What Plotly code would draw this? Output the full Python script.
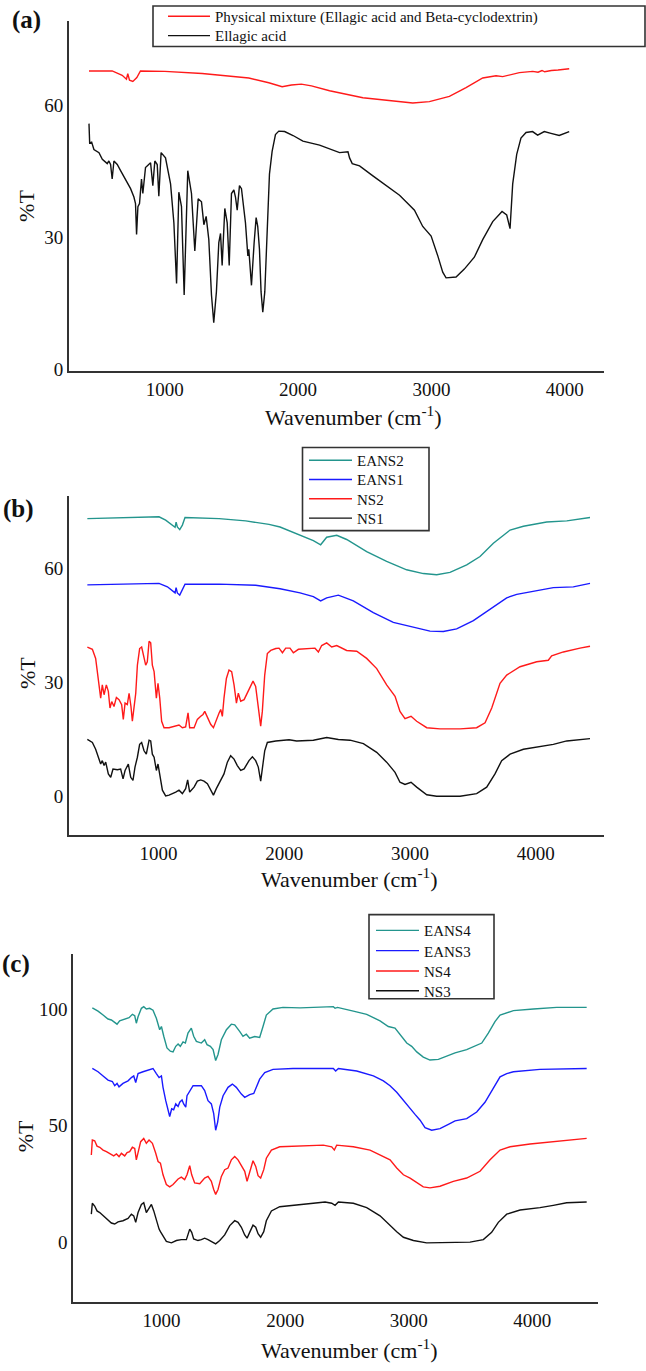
import plotly.graph_objects as go

W, H = 646, 1371
FONT = '"Liberation Serif", "Times New Roman", Times, "DejaVu Serif", serif'
RED = "#ff1a1a"
BLACK = "#111111"
TEAL = "#23958d"
BLUE = "#1a1aff"

# ---------------- Panel (a) ----------------
pm_x = [431, 605, 680, 712, 722, 735, 760, 790, 817, 1000, 1280, 1630, 1780, 1880, 1950,
        2024, 2100, 2236, 2486, 2860, 2985, 3135, 3260, 3385, 3485, 3535, 3660, 3760,
        3800, 3830, 3850, 3900, 3950, 4034]
pm_y = [67.9, 67.9, 66.9, 66.0, 67.3, 65.8, 65.5, 66.4, 67.9, 67.8, 67.3, 66.3, 65.2, 64.3, 64.7,
        64.9, 64.5, 63.4, 61.8, 60.6, 60.9, 62.1, 64.1, 66.3, 66.8, 66.6, 67.5, 67.8,
        67.6, 68.0, 67.7, 68.0, 68.1, 68.4]

ea_x = [431, 436, 451, 468, 506, 531, 568, 580, 593, 605, 618, 643, 668, 705, 743, 768, 780,
        788, 798, 810, 825, 835, 855, 893, 910, 925, 943, 955, 972, 1005, 1043, 1068, 1088,
        1105, 1125, 1145, 1172, 1200, 1225, 1250, 1275, 1293, 1310, 1330, 1350, 1367, 1387,
        1405, 1418, 1430, 1450, 1468, 1483, 1500, 1518, 1530, 1543, 1560, 1575, 1605, 1623,
        1630, 1650, 1670, 1685, 1697, 1710, 1722, 1735, 1750, 1767, 1785, 1805, 1830, 1855,
        1899, 1962, 2036, 2161, 2236, 2311, 2374, 2386, 2406, 2461, 2561, 2661, 2761, 2823,
        2873, 2935, 2998, 3048, 3085, 3110, 3185, 3247, 3322, 3385, 3460, 3530, 3565, 3590,
        3610, 3640, 3672, 3710, 3759, 3797, 3847, 3897, 3959, 4034]
ea_y = [55.9, 51.5, 51.7, 50.0, 49.3, 47.8, 46.8, 47.4, 46.6, 43.3, 47.4, 46.6, 45.2, 43.3,
        41.1, 39.2, 37.7, 30.7, 37.0, 37.7, 43.3, 40.0, 45.9, 47.0, 41.8, 47.4, 46.6, 39.4,
        49.3, 48.1, 42.2, 33.3, 19.5, 40.3, 37.0, 16.9, 45.2, 40.0, 26.9, 38.8, 38.1, 32.9,
        34.8, 29.5, 16.9, 10.6, 17.6, 28.8, 30.9, 23.6, 36.6, 33.3, 23.6, 40.0, 40.8, 39.2,
        36.2, 41.8, 41.1, 33.3, 25.8, 27.3, 19.1, 28.8, 34.5, 32.5, 27.3, 17.6, 13.0, 17.6,
        31.8, 44.4, 49.6, 53.4, 54.2, 54.1, 53.2, 51.9, 51.0, 50.2, 49.3, 49.5, 48.1, 46.8,
        46.3, 44.0, 41.8, 39.6, 37.7, 36.2, 32.5, 30.3, 25.8, 22.1, 20.8, 21.0, 22.8, 25.5,
        29.5, 33.6, 35.9, 35.1, 32.0, 42.2, 48.9, 52.6, 53.9, 54.1, 53.3, 54.1, 53.7, 53.2,
        54.1]

# ---------------- Panel (b) ----------------
eans2_x = [433, 685, 1003, 1056, 1109, 1131, 1139, 1149, 1168, 1189, 1210, 1481, 1693, 1878,
           1966, 2098, 2231, 2289, 2337, 2417, 2496, 2655, 2814, 2973, 3106, 3212, 3318,
           3451, 3557, 3663, 3796, 3902, 3981, 4087, 4247, 4432]
eans2_y = [73.2, 73.5, 73.7, 72.8, 71.5, 70.9, 72.3, 71.0, 70.3, 71.5, 73.5, 73.2, 72.6, 71.7,
           71.0, 69.3, 67.4, 66.3, 68.3, 68.8, 67.7, 64.5, 61.9, 59.7, 58.7, 58.4, 59.0,
           61.0, 63.2, 66.7, 70.2, 71.2, 71.7, 72.3, 72.6, 73.5]

eans1_x = [433, 1003, 1070, 1115, 1131, 1139, 1149, 1168, 1189, 1210, 1481, 1772, 1966,
           2125, 2231, 2289, 2337, 2430, 2549, 2708, 2867, 3026, 3159, 3265, 3371, 3504,
           3636, 3769, 3849, 3981, 4140, 4299, 4432]
eans1_y = [55.7, 56.1, 55.2, 54.1, 53.6, 55.0, 53.6, 53.0, 54.5, 55.9, 55.9, 55.6, 54.7,
           53.6, 52.6, 51.5, 52.3, 53.0, 51.5, 48.4, 45.8, 44.5, 43.5, 43.4, 44.1, 46.3,
           49.3, 52.3, 53.2, 54.1, 55.0, 55.2, 56.1]

ns2_x = [433, 473, 499, 521, 539, 552, 566, 584, 600, 613, 627, 645, 664, 685, 706, 719, 733,
         751, 765, 780, 791, 807, 818, 831, 849, 865, 884, 897, 910, 924, 937, 950, 964, 982,
         995, 1009, 1024, 1043, 1083, 1136, 1162, 1189, 1215, 1234, 1247, 1282, 1308, 1335,
         1353, 1367, 1388, 1414, 1436, 1459, 1481, 1494, 1507, 1520, 1539, 1560, 1581, 1600,
         1619, 1634, 1653, 1680, 1706, 1733, 1751, 1772, 1791, 1812, 1825, 1844, 1865, 1892,
         1932, 1958, 1985, 2011, 2045, 2072, 2112, 2178, 2244, 2271, 2297, 2337, 2377, 2417,
         2456, 2496, 2576, 2655, 2735, 2814, 2881, 2920, 2960, 3008, 3053, 3133, 3239, 3398,
         3530, 3597, 3650, 3716, 3769, 3875, 4008, 4100, 4127, 4220, 4352, 4432]
ns2_y = [39.3, 38.7, 36.3, 31.0, 25.8, 29.3, 26.7, 29.3, 27.6, 23.2, 24.9, 23.6, 26.0, 25.4,
         24.1, 20.2, 24.5, 24.1, 27.1, 23.6, 19.7, 24.1, 27.1, 34.5, 38.9, 39.3, 36.3, 34.5,
         35.4, 40.8, 40.4, 34.5, 32.8, 25.8, 29.7, 25.8, 19.7, 18.0, 18.0, 18.6, 18.7, 18.0,
         18.2, 21.9, 18.0, 18.0, 20.2, 21.0, 21.5, 22.3, 20.6, 18.9, 18.0, 20.2, 21.9, 22.8,
         21.0, 25.8, 31.0, 33.2, 32.8, 29.3, 24.5, 27.1, 25.0, 25.4, 27.1, 29.3, 30.3, 28.9,
         24.1, 18.4, 22.3, 31.9, 37.6, 38.4, 38.9, 39.0, 37.8, 39.0, 39.0, 37.8, 38.7, 38.9,
         39.0, 38.0, 39.7, 40.4, 39.3, 39.7, 39.0, 38.4, 38.2, 36.3, 33.6, 29.3, 26.3, 22.3,
         20.4, 21.0, 19.7, 18.0, 17.7, 17.7, 18.0, 19.3, 23.2, 29.7, 31.9, 34.1, 35.4, 35.8,
         37.0, 38.0, 39.0, 39.5]

ns1_x = [433, 473, 499, 521, 539, 552, 566, 579, 600, 619, 637, 672, 698, 717, 733, 759, 778,
         796, 812, 831, 849, 865, 884, 902, 924, 937, 950, 964, 982, 995, 1009, 1030, 1056,
         1083, 1136, 1162, 1189, 1215, 1231, 1247, 1282, 1308, 1335, 1361, 1388, 1414, 1436,
         1459, 1494, 1520, 1547, 1573, 1600, 1626, 1653, 1680, 1719, 1746, 1772, 1793, 1812,
         1825, 1844, 1865, 1932, 2038, 2098, 2231, 2337, 2430, 2523, 2629, 2735, 2814, 2881,
         2920, 2960, 3008, 3053, 3133, 3212, 3398, 3530, 3610, 3676, 3729, 3796, 3902, 4061,
         4140, 4247, 4432]
ns1_y = [14.9, 14.1, 12.3, 10.2, 8.4, 9.3, 8.0, 8.9, 5.8, 4.9, 7.1, 6.9, 7.1, 4.5, 6.7, 8.4,
         4.9, 4.1, 7.6, 10.2, 13.6, 14.1, 11.9, 11.0, 14.7, 14.5, 11.0, 10.2, 6.7, 8.4, 5.8,
         1.5, 0.0, 0.2, 1.0, 1.5, 0.6, 1.9, 4.2, 1.0, 2.3, 3.9, 4.2, 3.9, 3.2, 1.5, 0.2, 1.9,
         4.1, 5.8, 8.9, 10.6, 9.7, 8.0, 6.7, 7.1, 9.3, 10.3, 9.3, 7.6, 3.9, 7.6, 11.9, 14.1,
         14.5, 14.8, 14.5, 14.7, 15.4, 14.9, 14.7, 13.8, 11.5, 8.9, 6.2, 3.6, 3.0, 3.6, 2.3,
         0.3, -0.1, -0.1, 0.6, 2.3, 5.8, 9.3, 11.0, 12.3, 13.2, 13.6, 14.5, 15.1]

# ---------------- Panel (c) ----------------
eans4_x = [440, 486, 527, 567, 594, 621, 640, 661, 702, 737, 764, 783, 796, 810, 837, 856, 877,
           904, 931, 958, 985, 999, 1018, 1044, 1071, 1093, 1115, 1134, 1152, 1174, 1193, 1214,
           1241, 1260, 1282, 1322, 1349, 1368, 1395, 1417, 1438, 1457, 1484, 1525, 1565, 1592,
           1632, 1659, 1686, 1713, 1754, 1794, 1821, 1848, 1902, 1983, 2121, 2309, 2390, 2404,
           2423, 2552, 2660, 2768, 2835, 2889, 2943, 2984, 3024, 3065, 3118, 3172, 3240, 3307,
           3375, 3469, 3591, 3644, 3698, 3739, 3847, 4009, 4197, 4440]
eans4_y = [100.5, 99.1, 97.4, 95.7, 95.3, 94.3, 93.5, 94.9, 95.7, 96.3, 97.7, 97.1, 93.9, 96.7,
           100.3, 101.0, 100.0, 100.3, 99.5, 96.0, 91.1, 92.5, 88.3, 83.3, 81.9, 81.6, 84.0,
           85.0, 84.0, 85.9, 85.4, 89.7, 91.8, 88.3, 86.1, 85.4, 86.8, 84.7, 84.0, 82.6, 77.9,
           80.5, 86.8, 91.1, 93.5, 93.2, 90.4, 88.3, 89.2, 87.5, 88.2, 87.8, 92.5, 97.4, 100.0,
           100.7, 100.5, 101.0, 101.0, 100.3, 100.7, 99.1, 97.7, 94.9, 92.5, 91.8, 88.3, 85.4,
           84.0, 81.6, 79.4, 78.1, 78.4, 79.8, 81.2, 82.6, 85.4, 89.7, 94.6, 97.4, 99.3, 100.0,
           100.7, 100.7]

eans3_x = [440, 486, 527, 567, 602, 621, 640, 656, 688, 729, 756, 775, 791, 810, 850, 891, 931,
           958, 980, 999, 1012, 1034, 1053, 1066, 1082, 1098, 1115, 1134, 1147, 1166, 1179, 1196,
           1206, 1228, 1255, 1322, 1349, 1376, 1403, 1422, 1438, 1454, 1471, 1498, 1538, 1573,
           1605, 1646, 1673, 1713, 1746, 1767, 1794, 1835, 1902, 2064, 2175, 2363, 2390, 2409,
           2431, 2579, 2714, 2795, 2849, 2903, 2957, 2997, 3051, 3092, 3132, 3186, 3253, 3321,
           3375, 3469, 3550, 3617, 3685, 3739, 3793, 3847, 4062, 4278, 4440]
eans3_y = [74.5, 73.1, 71.3, 69.5, 68.9, 67.1, 68.1, 66.6, 68.1, 69.2, 70.6, 71.3, 68.5, 72.3,
           73.1, 73.7, 74.5, 72.3, 70.6, 71.3, 66.4, 60.7, 55.8, 53.9, 57.2, 56.8, 59.3, 58.2,
           60.0, 61.0, 59.3, 57.9, 62.8, 65.0, 67.1, 67.1, 65.0, 60.7, 59.3, 55.1, 48.0, 51.5,
           57.9, 62.8, 66.4, 67.8, 66.4, 63.5, 62.1, 63.3, 63.8, 66.4, 69.9, 72.7, 74.1, 74.5,
           74.5, 74.8, 74.5, 73.4, 74.5, 73.4, 71.3, 69.2, 67.1, 64.3, 60.7, 57.9, 54.8, 52.3,
           49.1, 48.0, 48.7, 50.5, 52.0, 53.0, 55.8, 60.0, 66.4, 70.9, 72.3, 73.1, 74.1, 74.5,
           74.5]

ns4_x = [432, 440, 459, 478, 500, 527, 554, 581, 613, 635, 656, 675, 702, 721, 742, 764, 783,
         796, 810, 831, 856, 877, 899, 926, 953, 972, 991, 1012, 1039, 1066, 1093, 1134, 1160,
         1187, 1206, 1228, 1244, 1268, 1309, 1349, 1376, 1403, 1422, 1438, 1457, 1484, 1511,
         1538, 1565, 1592, 1619, 1646, 1673, 1692, 1713, 1740, 1762, 1781, 1802, 1827, 1848,
         1889, 1956, 2121, 2309, 2377, 2398, 2417, 2552, 2687, 2768, 2849, 2903, 2957, 3011,
         3065, 3118, 3172, 3253, 3361, 3469, 3577, 3658, 3739, 3820, 3982, 4170, 4305, 4440]
ns4_y = [37.4, 43.8, 43.5, 41.2, 40.7, 39.5, 38.8, 38.1, 37.0, 37.8, 36.7, 38.1, 37.0, 38.4,
         38.8, 40.7, 40.2, 35.3, 38.1, 43.1, 44.5, 42.4, 43.8, 42.4, 38.1, 34.6, 33.9, 28.9,
         24.7, 23.7, 24.7, 27.1, 27.9, 26.8, 28.9, 32.8, 28.9, 25.4, 25.1, 27.5, 28.2, 26.1,
         22.6, 20.5, 22.6, 28.2, 31.1, 31.8, 35.3, 36.7, 35.3, 32.5, 30.4, 26.1, 29.7, 34.9,
         32.5, 28.5, 27.5, 31.1, 36.0, 39.5, 40.9, 41.2, 41.6, 40.9, 39.5, 41.6, 40.9, 39.5,
         37.4, 35.3, 31.8, 28.9, 27.5, 25.7, 23.7, 23.3, 24.0, 26.1, 27.5, 30.4, 35.3, 39.5,
         40.9, 42.1, 43.1, 44.1, 44.5]

ns3_x = [432, 440, 459, 478, 500, 521, 540, 567, 594, 621, 648, 688, 729, 756, 775, 791, 810,
         837, 856, 877, 899, 918, 937, 958, 980, 991, 1007, 1039, 1080, 1120, 1160, 1201, 1228,
         1244, 1260, 1295, 1322, 1349, 1376, 1403, 1438, 1471, 1511, 1552, 1592, 1619, 1646,
         1673, 1692, 1713, 1740, 1762, 1781, 1802, 1827, 1848, 1889, 1956, 2094, 2228, 2323,
         2377, 2404, 2431, 2552, 2660, 2768, 2849, 2903, 2957, 3038, 3145, 3307, 3496, 3604,
         3671, 3725, 3793, 3901, 4062, 4170, 4278, 4440]
ns3_y = [12.0, 16.7, 15.5, 13.4, 12.7, 11.6, 10.6, 9.2, 8.2, 7.8, 8.7, 9.2, 10.2, 12.0, 11.3,
         8.5, 12.7, 16.2, 16.9, 12.7, 14.8, 16.2, 13.4, 9.2, 5.6, 4.5, 3.1, 0.3, -0.3, 0.7, 1.1,
         1.1, 5.6, 4.2, 1.4, 0.7, 1.1, 1.7, 1.1, 0.3, -0.7, 0.7, 3.1, 7.1, 9.2, 8.5, 6.4, 3.1,
         1.7, 4.2, 7.3, 6.4, 3.6, 2.1, 4.5, 9.2, 13.4, 15.2, 15.8, 16.7, 17.2, 16.7, 15.8,
         17.2, 16.7, 14.8, 11.3, 7.1, 4.5, 2.1, 0.7, -0.3, -0.3, 0.0, 1.1, 4.2, 8.5, 12.0,
         13.8, 14.8, 15.8, 16.9, 17.2]

x_ticks = [1000, 2000, 3000, 4000]
y_ticks_ab = [0, 30, 60]
y_ticks_c = [0, 50, 100]
x_title = "Wavenumber (cm<sup>-1</sup>)"
y_title = "%T"


def px(x):
    return x / W


def py(y):
    return 1 - y / H


fig = go.Figure()

# (name, x, y, colour, panel, legend-left px, legend-row centre px, symbol width px)
series = [
    ("Physical mixture (Ellagic acid and Beta-cyclodextrin)", pm_x, pm_y, RED, 1, 163, 11, 42),
    ("Ellagic acid", ea_x, ea_y, BLACK, 1, 163, 31, 42),
    ("EANS2", eans2_x, eans2_y, TEAL, 2, 304, 460, 43),
    ("EANS1", eans1_x, eans1_y, BLUE, 2, 304, 479.5, 43),
    ("NS2", ns2_x, ns2_y, RED, 2, 304, 499, 43),
    ("NS1", ns1_x, ns1_y, BLACK, 2, 304, 518.5, 43),
    ("EANS4", eans4_x, eans4_y, TEAL, 3, 371, 935, 43),
    ("EANS3", eans3_x, eans3_y, BLUE, 3, 371, 955.5, 43),
    ("NS4", ns4_x, ns4_y, RED, 3, 371, 976, 43),
    ("NS3", ns3_x, ns3_y, BLACK, 3, 371, 996, 43),
]

layout = dict(
    width=W, height=H, margin=dict(l=0, r=0, t=0, b=0),
    paper_bgcolor="white", plot_bgcolor="white",
    font=dict(family=FONT, color="#111"),
    annotations=[], shapes=[],
)

for k, (name, xs_, ys_, color, n, lx, ly, iw) in enumerate(series):
    leg = "legend" if k == 0 else f"legend{k + 1}"
    fig.add_trace(go.Scatter(
        x=xs_, y=ys_, name=name, mode="lines",
        line=dict(color=color, width=1.4),
        xaxis="x" if n == 1 else f"x{n}", yaxis="y" if n == 1 else f"y{n}",
        legend=leg, showlegend=True))
    layout[leg] = dict(bgcolor="rgba(0,0,0,0)", borderwidth=0,
                       font=dict(family=FONT, size=15, color="#111"),
                       xanchor="left", yanchor="top", itemwidth=iw,
                       itemclick=False, itemdoubleclick=False,
                       x=px(lx), y=py(ly - 16.5))

tickfont = dict(family=FONT, size=19, color="#111")
axline = dict(showline=True, linecolor="#333", linewidth=2, ticks="", showgrid=False,
              zeroline=False, tickfont=tickfont, fixedrange=True)

panels = [
    # x-domain px, y-domain px (top,bottom), x range, y range, yticks
    ((69, 603.6), (16, 370), (281, 4292), (-0.45, 79.3), y_ticks_ab),
    ((69, 603.6), (496, 839), (287, 4540), (-10.45, 79.2), y_ticks_ab),
    ((73.3, 598.3), (958.3, 1310.7), (286, 4534), (-25.8, 123.8), y_ticks_c),
]

for i, (xd, yd, xr, yr, yt) in enumerate(panels, start=1):
    xs = "xaxis" if i == 1 else f"xaxis{i}"
    ys = "yaxis" if i == 1 else f"yaxis{i}"
    xa = "x" if i == 1 else f"x{i}"
    ya = "y" if i == 1 else f"y{i}"
    layout[xs] = dict(axline, domain=[px(xd[0]), px(xd[1])], range=list(xr),
                      tickvals=x_ticks, anchor=ya)
    layout[ys] = dict(axline, domain=[py(yd[1]), py(yd[0])], range=list(yr),
                      tickvals=yt, anchor=xa)

# axis titles and panel labels
title_font = dict(family=FONT, size=22, color="#111")
for (xc, yc) in [(353, 415), (349, 882), (349, 1358)]:
    layout["annotations"].append(dict(text=x_title, x=px(xc), y=py(yc), xref="paper", yref="paper",
                                      showarrow=False, font=title_font,
                                      xanchor="center", yanchor="middle"))
for (xc, yc) in [(27, 203), (27, 675), (25, 1143)]:
    layout["annotations"].append(dict(text=y_title, x=px(xc), y=py(yc), xref="paper", yref="paper",
                                      showarrow=False, font=title_font, textangle=-90,
                                      xanchor="center", yanchor="middle"))
for (lab, xc, yc) in [("(a)", 27, 15), ("(b)", 18, 509), ("(c)", 16, 969)]:
    layout["annotations"].append(dict(text=f"<b>{lab}</b>", x=px(xc), y=py(yc), xref="paper",
                                      yref="paper", showarrow=False,
                                      font=dict(family=FONT, size=25, color="#111"),
                                      xanchor="center", yanchor="middle"))

# legend frames
for (x0, y0, x1, y1) in [(153, 1, 645, 42), (302.5, 447, 429, 531), (369, 919, 494, 1004)]:
    layout["shapes"].append(dict(type="rect", xref="paper", yref="paper",
                                 x0=px(x0), x1=px(x1), y0=py(y1), y1=py(y0),
                                 line=dict(color="#333", width=1.6), fillcolor="rgba(0,0,0,0)"))

fig.update_layout(**layout)
fig.write_html("out.html",
               config={"displayModeBar": False, "staticPlot": False},
               post_script="document.body.style.margin='0';document.body.style.padding='0';"
                           "document.documentElement.style.overflow='hidden';")
